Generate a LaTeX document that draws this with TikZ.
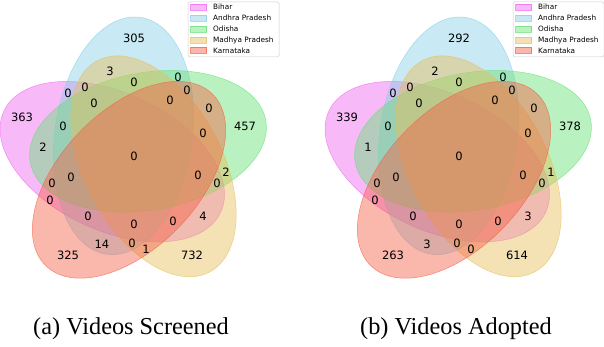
\documentclass[tikz,border=0pt]{standalone}
\usepackage{fontspec}
\setmainfont{Liberation Serif}
\newfontfamily\vennfont{DejaVu Sans}
\usetikzlibrary{positioning}

\definecolor{bihar}{RGB}{240,100,240}
\definecolor{andhra}{RGB}{135,206,230}
\definecolor{odisha}{RGB}{100,225,115}
\definecolor{madhya}{RGB}{230,190,90}
\definecolor{karnataka}{RGB}{245,95,70}

\begin{document}
\begin{tikzpicture}[x=1pt, y=1pt,
    setfill/.style={fill=#1, fill opacity=0.45, draw=#1, draw opacity=0.7, line width=0.5pt},
    count/.style={font=\vennfont\fontsize{11.5}{12}\selectfont, inner sep=0pt},
    legbox/.style={draw=black!20, fill=white, rounded corners=1.5pt, line width=0.5pt},
    legkey/.style={setfill=#1, minimum width=16pt, minimum height=6pt, inner sep=0pt},
    legtext/.style={font=\vennfont\fontsize{7.3}{8}\selectfont, inner sep=0pt},
    caption/.style={font=\fontsize{24.3}{27}\selectfont, anchor=base}
  ]
  \useasboundingbox (0,0) rectangle (604,346);

  \foreach \dx/\tag in {0/a, 325/b} {
    \begin{scope}[xshift=\dx]
      \draw[setfill=bihar] (112.25,184.35) ellipse [x radius=119.6pt, y radius=68.75pt, rotate=155];
      \draw[setfill=andhra] (123.53,210.2) ellipse [x radius=119.6pt, y radius=68.75pt, rotate=82];
      \draw[setfill=odisha] (148.0,204.7) ellipse [x radius=119.6pt, y radius=68.75pt, rotate=10];
      \draw[setfill=madhya] (153.5,179.68) ellipse [x radius=119.6pt, y radius=68.75pt, rotate=118];
      \draw[setfill=karnataka] (129.03,166.2) ellipse [x radius=119.6pt, y radius=68.75pt, rotate=46];

      \draw[legbox] (188,289) rectangle (279,344);
      \foreach \col/\state/\ky [count=\i] in {bihar/Bihar/339, andhra/Andhra Pradesh/328,
          odisha/Odisha/317, madhya/Madhya Pradesh/306, karnataka/Karnataka/295.5} {
        \node[legkey=\col] (key\tag\i) at (198.7,\ky) {};
        \node[legtext, anchor=mid west, right=6pt of key\tag\i] (name\tag\i) {\state};
      }
    \end{scope}
  }

  \foreach \px/\py/\va/\vb [count=\i] in {
      134/308/305/292, 110/275/3/2, 178/269/0/0, 134/264/0/0, 85/259/0/0,
      68/253/0/0, 187/256/0/0, 94/243/0/0, 170/246/0/0, 209/238/0/0,
      22/229/363/339, 63/220/0/0, 245/220/457/378, 203/213/0/0, 43/199/2/1,
      134/190/0/0, 71/169/0/0, 198/171/0/0, 226/174/2/1, 52/163/0/0,
      217/163/0/0, 50/146/0/0, 88/130/0/0, 134/122/0/0, 173/125/0/0,
      203/130/4/3, 102/102/14/3, 132/103/0/0, 146/97/1/0, 68/91/325/263,
      192/91/732/614} {
    \node[count] (na\i) at (\px,\py) {\va};
    \node[count] (nb\i) at (\px+325,\py) {\vb};
  }

  \node[caption] (capa) at (131,11.5) {(a) Videos Screened};
  \node[caption] (capb) at (456,11.5) {(b) Videos Adopted};
\end{tikzpicture}
\end{document}
